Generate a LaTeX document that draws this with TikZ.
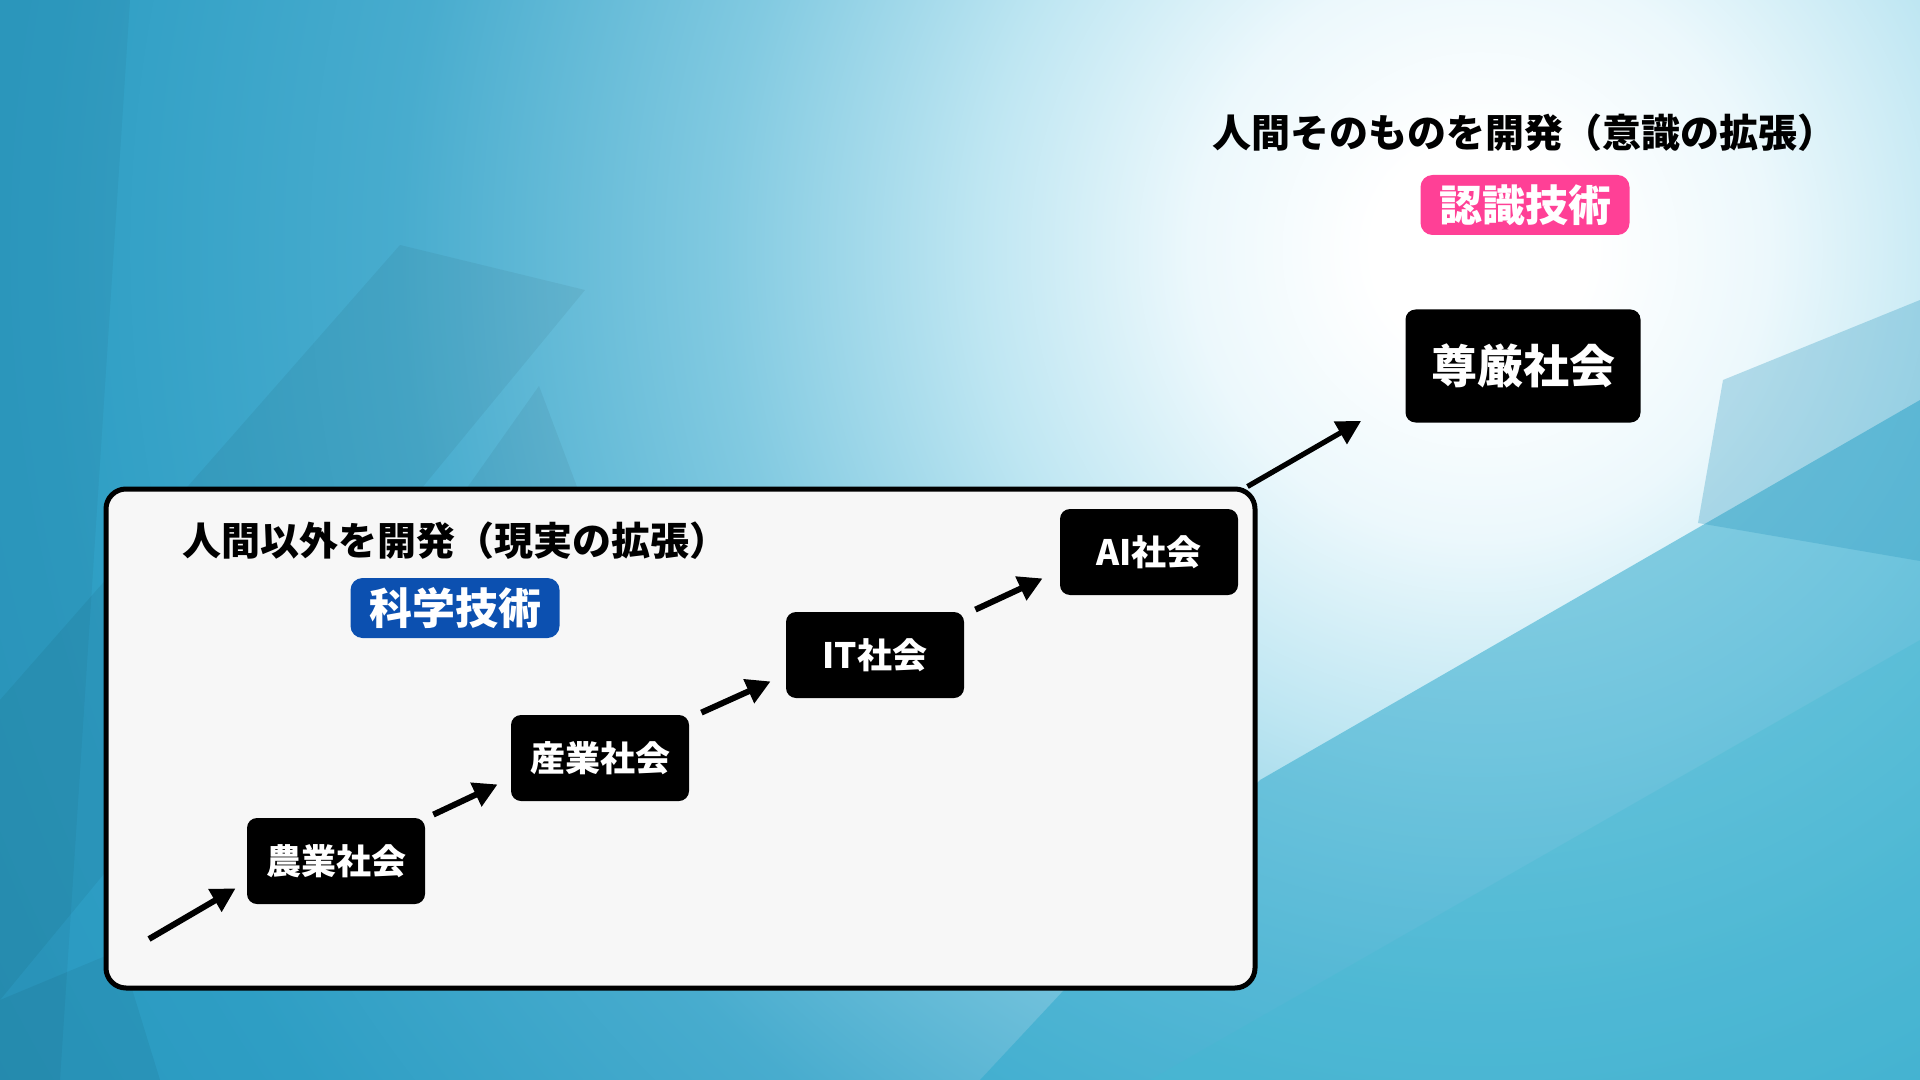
\documentclass[tikz,border=0pt]{standalone}
\usepackage{fontspec}
\newfontfamily\jp{Noto Sans CJK JP}
\usetikzlibrary{arrows.meta}
\definecolor{pinkbox}{RGB}{255,64,150}
\definecolor{bluebox}{RGB}{12,80,176}
\definecolor{bgdeep}{RGB}{40,150,190}
\definecolor{glowA}{RGB}{236,248,252}
\definecolor{glowB}{RGB}{190,230,242}
\definecolor{glowC}{RGB}{130,202,225}
\definecolor{glowD}{RGB}{72,172,206}
\definecolor{glowE}{RGB}{46,158,196}
\definecolor{tealA}{RGB}{48,170,205}
\definecolor{tealB}{RGB}{66,186,210}
\definecolor{panel}{RGB}{247,247,247}
\pgfdeclareradialshading{glow}{\pgfpoint{0bp}{0bp}}{color(0bp)=(white); color(1.5bp)=(white); color(4bp)=(glowA); color(7bp)=(glowB); color(10.5bp)=(glowC); color(15bp)=(glowD); color(20bp)=(glowE); color(25bp)=(bgdeep); color(50bp)=(bgdeep)}
\begin{document}
\begin{tikzpicture}[x=0.5pt,y=-0.5pt,
  soc/.style={fill=black, rounded corners=5pt, text=white, inner sep=0pt,
    font=\jp\bfseries\fontsize{17.5}{20}\selectfont,
    minimum width=89pt, minimum height=43pt},
  bigsoc/.style={soc, minimum width=117.5pt, minimum height=56.5pt,
    font=\jp\bfseries\fontsize{23}{26}\selectfont},
  tagbox/.style={rounded corners=6pt, text=white, inner sep=0pt,
    font=\jp\bfseries\fontsize{21.5}{24}\selectfont,
    minimum width=104.5pt, minimum height=30pt},
  titletext/.style={font=\jp\bfseries\fontsize{19.5}{22}\selectfont, text=black, inner sep=0pt},
  arr/.style={line width=3pt, -{Triangle[length=12pt,width=12.5pt]}},
]
\useasboundingbox (0,0) rectangle (1920,1080);
% background
\begin{scope}
\clip (0,0) rectangle (1920,1080);
\fill[bgdeep] (0,0) rectangle (1920,1080);
\shade[shading=glow] (1480,250) circle [radius=1800];
\fill[tealA, opacity=0.55] (980,1080) -- (1260,780) -- (1920,400) -- (1920,1080) -- cycle;
\fill[tealB, opacity=0.3] (1150,1080) -- (1920,640) -- (1920,1080) -- cycle;
\fill[bgdeep, opacity=0.3] (1698,523) -- (1723,380) -- (1920,300) -- (1920,561) -- cycle;
\fill[black, opacity=0.05] (0,700) -- (400,245) -- (585,290) -- (0,1000) -- cycle;
\fill[black, opacity=0.05] (392,594) -- (539,386) -- (585,508) -- (429,698) -- cycle;
\fill[black, opacity=0.04] (0,0) -- (130,0) -- (60,1080) -- (0,1080) -- cycle;
\fill[black, opacity=0.05] (0,1000) -- (120,950) -- (160,1080) -- (0,1080) -- cycle;
\end{scope}
% panel
\node[draw=black, line width=2.5pt, fill=panel, rounded corners=10pt,
  minimum width=574.5pt, minimum height=249.5pt, inner sep=0pt] (frame) at (680.5,738.5) {};
% titles and tags
\node[titletext] (t1) at (455,541) {人間以外を開発（現実の拡張）};
\node[tagbox, fill=bluebox] (sci) at (455,608) {科学技術};
\node[titletext] (t2) at (1524,133) {人間そのものを開発（意識の拡張）};
\node[tagbox, fill=pinkbox] (cog) at (1525,205) {認識技術};
% societies
\node[soc] (n1) at (336,861) {農業社会};
\node[soc] (n2) at (600,758) {産業社会};
\node[soc] (n3) at (875,655) {IT社会};
\node[soc] (n4) at (1149,552) {AI社会};
\node[bigsoc] (n5) at (1523,366) {尊厳社会};
% arrows
\coordinate (s0) at (149,939);
\draw[arr] (s0) -- ([shift={(-11,-16)}]n1.south west);
\draw[arr] ([shift={(8,-3)}]n1.north east) -- ([shift={(-13,-17)}]n2.south west);
\draw[arr] ([shift={(12,-2)}]n2.north east) -- ([shift={(-15,-17)}]n3.south west);
\draw[arr] ([shift={(11,-2)}]n3.north east) -- ([shift={(-17,-17)}]n4.south west);
\draw[arr, line width=2.6pt] ([shift={(-10,0)}]frame.north east) -- ([shift={(-44,-2)}]n5.south west);
\end{tikzpicture}
\end{document}
